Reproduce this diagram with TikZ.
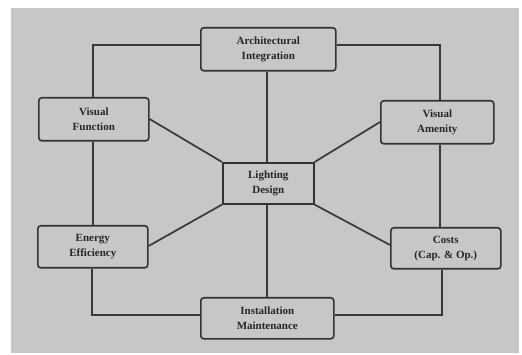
\documentclass[tikz,border=0pt]{standalone}
\usepackage{fontspec}
\setmainfont{Liberation Serif}
\pgfdeclarelayer{back}
\pgfdeclarelayer{lines}
\pgfsetlayers{back,lines,main}
\begin{document}
\begin{tikzpicture}[x=1pt,y=-1pt,
  ink/.style={draw=black!80,line width=1.6pt},
  topic/.style={ink,fill=black!22,rounded corners=3pt,align=center,
    font=\fontsize{11}{14.5}\selectfont\bfseries,text=black!85,
    inner sep=0pt,anchor=north west},
  hub/.style={topic,rounded corners=0pt},
  link/.style={draw=black!78,line width=1.7pt}]
\useasboundingbox (0,0) rectangle (522,355);

% boxes
\node[topic,minimum width=135pt,minimum height=43pt] (arch) at (200,27) {Architectural\\Integration};
\node[topic,minimum width=110pt,minimum height=43pt] (vf) at (38,97) {Visual\\Function};
\node[topic,minimum width=113pt,minimum height=43pt] (va) at (380,100) {Visual\\Amenity};
\node[hub,minimum width=91pt,minimum height=41pt] (ld) at (222,162) {Lighting\\Design};
\node[topic,minimum width=110pt,minimum height=42pt] (ee) at (37,225) {Energy\\Efficiency};
\node[topic,minimum width=110pt,minimum height=41pt] (co) at (390,227) {Costs\\(Cap. \& Op.)};
\node[topic,minimum width=133pt,minimum height=41pt] (im) at (200,297) {Installation\\Maintenance};

% free corners of the outer loop and the hub's vertical axis
\coordinate (c1) at (93,45);
\coordinate (c2) at (440,45);
\coordinate (c3) at (92,315);
\coordinate (c4) at (442,315);
\coordinate (axis) at (267,0);

\begin{pgfonlayer}{back}
  \fill[white] (0,0) rectangle (522,355);
  \fill[black!22] (11,8) rectangle (519,353);
\end{pgfonlayer}

\begin{pgfonlayer}{lines}
  % outer ring
  \draw[link] (arch.west |- c1) -- (c1) -- (c1 |- vf.north);
  \draw[link] (arch.east |- c2) -- (c2) -- (c2 |- va.north);
  \draw[link] (vf.south -| c1) -- (c1 |- ee.north);
  \draw[link] (va.south -| c2) -- (c2 |- co.north);
  \draw[link] (ee.south -| c3) -- (c3) -- (c3 -| im.west);
  \draw[link] (co.south -| c4) -- (c4) -- (c4 -| im.east);

  % spokes from the hub
  \draw[link] (axis |- ld.north) -- (axis |- arch.south);
  \draw[link] (axis |- ld.south) -- (axis |- im.north);
  \draw[link] (ld.north west) -- (vf.east |- 0,119);
  \draw[link] (ld.north east) -- (va.west |- 0,122);
  \draw[link] (ld.south west) -- (ee.east |- 0,246);
  \draw[link] (ld.south east) -- (co.west |- 0,245);
\end{pgfonlayer}
\end{tikzpicture}
\end{document}
